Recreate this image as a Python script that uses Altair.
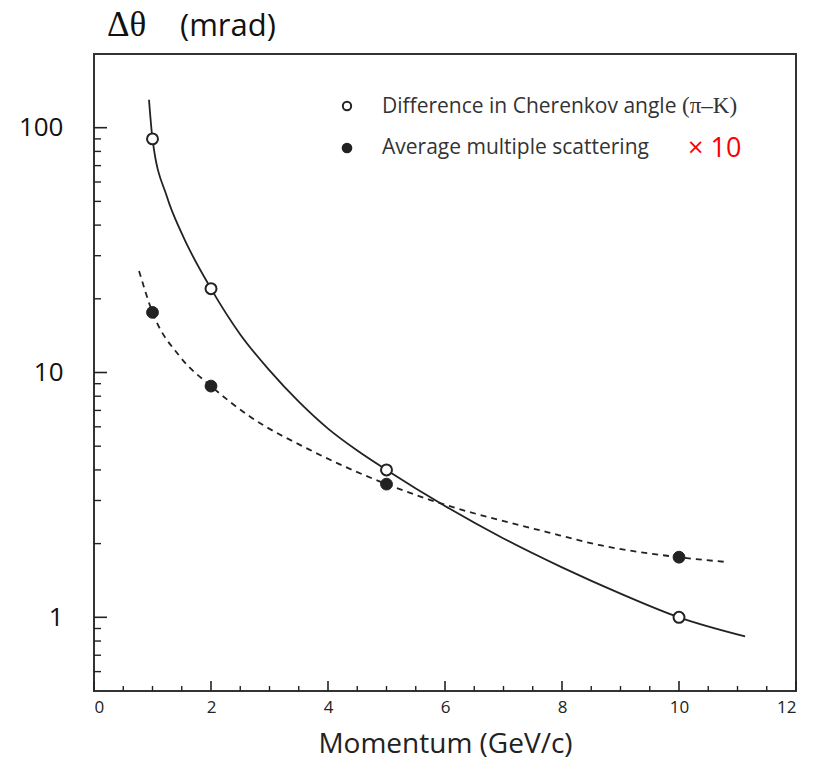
import altair as alt
import pandas as pd

# Measured points (momentum in GeV/c, delta-theta in mrad)
cher_p = [1, 2, 5, 10]
cher_v = [90, 22, 4.0, 1.0]
ms_p = [1, 2, 5, 10]
ms_v = [17.6, 8.8, 3.5, 1.76]

# Curves
cher_curve_p = [0.94, 1.0, 1.25, 1.5, 2.0, 2.5, 3.0, 3.5, 4.0, 4.5, 5.0, 6.0, 7.0, 8.0, 9.0, 10.0, 11.13]
cher_curve_v = [130, 90, 52, 37, 22, 14.3, 10.2, 7.6, 5.9, 4.8, 4.0, 2.85, 2.1, 1.6, 1.25, 1.0, 0.836]
ms_curve_p = [0.77, 1.0, 1.47, 2.0, 2.67, 3.69, 5.0, 5.74, 7.74, 8.65, 10.0, 10.84]
ms_curve_v = [26, 17.6, 11.6, 8.8, 6.6, 4.83, 3.5, 3.02, 2.23, 1.97, 1.76, 1.68]

x_major = [0, 2, 4, 6, 8, 10, 12]
x_minor = [0.5, 1, 1.5, 2.5, 3, 3.5, 4.5, 5, 5.5, 6.5, 7, 7.5, 8.5, 9, 9.5, 10.5, 11, 11.5]
y_major = [1, 10, 100]
y_minor = [0.6, 0.7, 0.8, 0.9, 2, 3, 4, 5, 6, 7, 8, 9, 20, 30, 40, 50, 60, 70, 80, 90]

legend_labels = ["Difference in Cherenkov angle", "Average multiple scattering"]

W, H = 702, 637
INK = "#222222"
SANS = "Open Sans"
SERIF = "Liberation Serif"

xs = alt.Scale(domain=[0, 12], nice=False, zero=False)
ys = alt.Scale(type="log", domain=[0.5, 200], nice=False)
xaxis = alt.Axis(values=x_major, ticks=False, tickSize=0, domain=False, grid=False,
                 labelFont=SANS, labelFontSize=17, labelColor=INK, labelPadding=8,
                 title="Momentum  (GeV/c)", titleFont=SANS, titleFontSize=28,
                 titleFontWeight="normal", titleColor=INK, titlePadding=15)
yaxis = alt.Axis(values=y_major, format="d", ticks=False, tickSize=0, domain=False, grid=False,
                 labelFont=SANS, labelFontSize=26, labelColor="#111111", labelPadding=31,
                 title=None)

X = alt.X("p:Q", scale=xs, axis=xaxis)
Y = alt.Y("v:Q", scale=ys, axis=yaxis)

cc = pd.DataFrame({"p": cher_curve_p, "v": cher_curve_v})
mc = pd.DataFrame({"p": ms_curve_p, "v": ms_curve_v})
cp = pd.DataFrame({"p": cher_p, "v": cher_v})
mp = pd.DataFrame({"p": ms_p, "v": ms_v})

cher_line = alt.Chart(cc).mark_line(color=INK, strokeWidth=1.8, interpolate="monotone").encode(x=X, y=Y)
ms_line = alt.Chart(mc).mark_line(color=INK, strokeWidth=1.8, strokeDash=[6, 5],
                                  interpolate="monotone").encode(x=X, y=Y)
cher_pts = alt.Chart(cp).mark_point(shape="circle", filled=True, fill="white", stroke=INK,
                                    strokeWidth=2, size=120, opacity=1).encode(x=X, y=Y)
ms_pts = alt.Chart(mp).mark_point(shape="circle", filled=True, fill=INK, stroke=INK,
                                  strokeWidth=1, size=140, opacity=1).encode(x=X, y=Y)

# inward ticks
xmaj = alt.Chart(pd.DataFrame({"p": x_major})).mark_rule(color=INK, strokeWidth=1.6).encode(
    x=X, y=alt.value(H), y2=alt.value(H - 10))
xmin = alt.Chart(pd.DataFrame({"p": x_minor})).mark_rule(color=INK, strokeWidth=1.4).encode(
    x=X, y=alt.value(H), y2=alt.value(H - 5))
ymaj = alt.Chart(pd.DataFrame({"v": y_major})).mark_rule(color=INK, strokeWidth=1.6).encode(
    y=Y, x=alt.value(0), x2=alt.value(13))
ymin = alt.Chart(pd.DataFrame({"v": y_minor})).mark_rule(color=INK, strokeWidth=1.4).encode(
    y=Y, x=alt.value(0), x2=alt.value(7))

# y-axis title above the frame
t1 = alt.Chart(pd.DataFrame({"t": ["Δθ"]})).mark_text(
    font=SERIF, fontSize=35, color="#111111", align="left", baseline="alphabetic").encode(
    text="t:N", x=alt.value(13), y=alt.value(-18))
t2 = alt.Chart(pd.DataFrame({"t": ["(mrad)"]})).mark_text(
    font=SANS, fontSize=31, color="#111111", align="left", baseline="alphabetic").encode(
    text="t:N", x=alt.value(86), y=alt.value(-18))

# legend
lg_open = alt.Chart(pd.DataFrame({"k": [0]})).mark_point(
    shape="circle", filled=True, fill="white", stroke=INK, strokeWidth=2, size=70, opacity=1).encode(
    x=alt.value(253), y=alt.value(52))
lg_fill = alt.Chart(pd.DataFrame({"k": [0]})).mark_point(
    shape="circle", filled=True, fill=INK, stroke=INK, size=75, opacity=1).encode(
    x=alt.value(253), y=alt.value(94))
lg_t1 = alt.Chart(pd.DataFrame({"t": [legend_labels[0]]})).mark_text(
    font=SANS, fontSize=21, color="#333333", align="left", baseline="alphabetic").encode(
    text="t:N", x=alt.value(288), y=alt.value(59))
lg_t1b = alt.Chart(pd.DataFrame({"t": ["(π–K)"]})).mark_text(
    font=SERIF, fontSize=23, color="#333333", align="left", baseline="alphabetic").encode(
    text="t:N", x=alt.value(588), y=alt.value(59))
lg_t2 = alt.Chart(pd.DataFrame({"t": [legend_labels[1]]})).mark_text(
    font=SANS, fontSize=21, color="#333333", align="left", baseline="alphabetic").encode(
    text="t:N", x=alt.value(288), y=alt.value(100))
lg_x10 = alt.Chart(pd.DataFrame({"t": ["× 10"]})).mark_text(
    font=SANS, fontSize=27, color="#ff0000", align="left", baseline="alphabetic").encode(
    text="t:N", x=alt.value(594), y=alt.value(103))

chart = alt.layer(
    ymin, ymaj, xmin, xmaj, ms_line, cher_line, ms_pts, cher_pts,
    t1, t2, lg_open, lg_fill, lg_t1, lg_t1b, lg_t2, lg_x10
).properties(
    width=W, height=H,
    autosize=alt.AutoSizeParams(type="none"),
    padding={"left": 86, "top": 46, "right": 13, "bottom": 70},
).configure(
    background="white",
    view=alt.ViewConfig(stroke="#333333", strokeWidth=2),
)

chart.save("out.html", embed_options={"renderer": "svg", "actions": False})
